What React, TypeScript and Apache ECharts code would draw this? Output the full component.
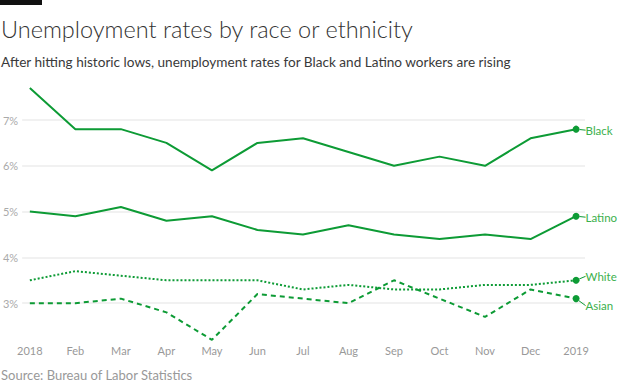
import React, { useEffect, useRef } from "react";
import * as echarts from "echarts";

const months = ["2018", "Feb", "Mar", "Apr", "May", "Jun", "Jul", "Aug", "Sep", "Oct", "Nov", "Dec", "2019"];
const black = [7.7, 6.8, 6.8, 6.5, 5.9, 6.5, 6.6, 6.3, 6.0, 6.2, 6.0, 6.6, 6.8];
const latino = [5.0, 4.9, 5.1, 4.8, 4.9, 4.6, 4.5, 4.7, 4.5, 4.4, 4.5, 4.4, 4.9];
const white = [3.5, 3.7, 3.6, 3.5, 3.5, 3.5, 3.3, 3.4, 3.3, 3.3, 3.4, 3.4, 3.5];
const asian = [3.0, 3.0, 3.1, 2.8, 2.2, 3.2, 3.1, 3.0, 3.5, 3.1, 2.7, 3.3, 3.1];
const yTicks = [2, 3, 4, 5, 6, 7, 8];

const LINE = "#0d9b35";
const LABEL = "#3cb04c";
const FONT = "Lato, 'Open Sans', sans-serif";

function makeSeries(name: string, values: number[], type: any, dy: number) {
  const last = values.length - 1;
  return {
    type: "line",
    name,
    symbol: "none",
    showSymbol: true,
    lineStyle: { color: LINE, width: 2, type },
    itemStyle: { color: LINE },
    labelLayout: { dy },
    labelLine: { show: true, lineStyle: { color: LINE, width: 1 } },
    data: values.map((v, i) =>
      i === last
        ? {
            value: [i, v],
            symbol: "circle",
            symbolSize: 7,
            label: {
              show: true,
              position: "right",
              distance: 6,
              formatter: name,
              color: LABEL,
              fontSize: 11.5,
              fontFamily: FONT,
            },
            labelLine: { show: true, lineStyle: { color: LINE, width: 1 } },
          }
        : { value: [i, v] }
    ),
  };
}

export default function App() {
  const ref = useRef<HTMLDivElement>(null);
  useEffect(() => {
    document.body.style.margin = "0";
    const chart = echarts.init(ref.current!, undefined, { renderer: "svg" });
    chart.setOption({
      animation: false,
      backgroundColor: "#fff",
      title: [
        {
          text: "Unemployment rates by race or ethnicity",
          left: 1,
          top: 17,
          padding: 0,
          textStyle: { fontFamily: FONT, fontWeight: 300, fontSize: 23.5, color: "#333" },
        },
        {
          text: "After hitting historic lows, unemployment rates for Black and Latino workers are rising",
          left: 1,
          top: 55,
          padding: 0,
          textStyle: { fontFamily: FONT, fontWeight: "normal", fontSize: 13.6, color: "#3a3a3a" },
        },
        {
          text: "Source: Bureau of Labor Statistics",
          left: 1,
          top: 368,
          padding: 0,
          textStyle: { fontFamily: FONT, fontWeight: "normal", fontSize: 13, color: "#999" },
        },
      ],
      graphic: [{ type: "rect", shape: { x: 0, y: 0, width: 42, height: 5 }, style: { fill: "#111" } }],
      grid: { left: 18.3, right: 35, top: 74.2, height: 274.8 },
      xAxis: {
        type: "value",
        min: -0.168,
        max: 12.196,
        axisLine: { show: false },
        axisTick: { show: false },
        splitLine: { show: false },
        axisLabel: {
          customValues: months.map((_, i) => i),
          formatter: (v: number) => months[Math.round(v)] ?? "",
          color: "#999",
          fontSize: 11,
          fontFamily: FONT,
          margin: -4,
        },
      },
      yAxis: {
        type: "value",
        min: 2,
        max: 8,
        interval: 1,
        axisLine: { show: false },
        axisTick: { show: false },
        axisLabel: {
          formatter: (v: number) => (v === yTicks[0] || v === yTicks[yTicks.length - 1] ? "" : v + "%"),
          color: "#aaa",
          fontSize: 11,
          fontFamily: FONT,
          margin: 4,
        },
        splitLine: {
          lineStyle: {
            color: ["transparent", "#ececec", "#ececec", "#ececec", "#ececec", "#ececec", "transparent"],
            width: 1.5,
          },
        },
      },
      series: [
        makeSeries("Black", black, "solid", 1),
        makeSeries("Latino", latino, "solid", 1),
        makeSeries("White", white, "dotted", -4),
        makeSeries("Asian", asian, [5, 4], 7),
      ],
    });
    return () => chart.dispose();
  }, []);
  return <div ref={ref} style={{ width: 620, height: 388 }} />;
}
